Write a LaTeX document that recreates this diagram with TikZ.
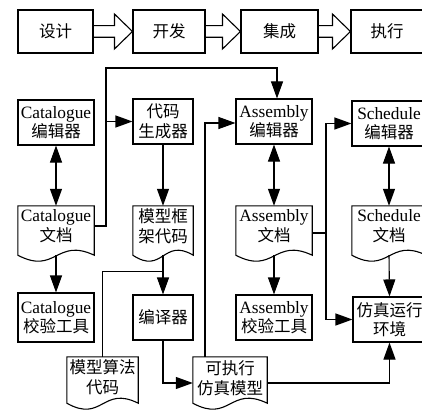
\documentclass[tikz,border=0pt]{standalone}
\usepackage{fontspec}
\setmainfont{Liberation Serif}[Scale=1.05]
\newfontfamily\cjk{Noto Sans CJK SC}
\usetikzlibrary{arrows.meta,calc}

\newcommand\blockarr[2]{%
  \draw[ln] let \p1=(#1.east), \p2=(#2.west) in
    (\x1,\y1+5.8pt) -- (\x2-18pt,\y1+5.8pt) -- (\x2-18pt,\y1+17.5pt) -- (\x2,\y1)
    -- (\x2-18pt,\y1-17.5pt) -- (\x2-18pt,\y1-5.8pt) -- (\x1,\y1-5.8pt);}
\newcommand\docshape[2]{%
  \draw[ln] (#1.north west) -- (#1.north east) -- ($(#1.south east)+(0,#2)$)
    .. controls ($(#1.south)+(0,#2-18)$) and ($(#1.south)+(0,#2+20)$)
    .. ($(#1.south west)+(0,#2)$) -- cycle;}

\begin{document}
\begin{tikzpicture}[x=1pt,y=-1pt,
  every node/.style={font=\fontsize{16.5}{19.5}\selectfont},
  ln/.style={line width=1.1pt},
  box/.style={draw, line width=1.1pt, inner sep=0pt, align=center},
  docn/.style={inner sep=0pt, align=center},
  con/.style={line width=1.1pt, -{Triangle[length=17pt,width=12pt]}},
  dcon/.style={line width=1.1pt, {Triangle[length=17pt,width=12pt]}-{Triangle[length=17pt,width=12pt]}},
]
\useasboundingbox (0,0) rectangle (422,409);

% top row
\node[box, minimum width=75pt, minimum height=43pt] (design) at (55.5,31.5) {\cjk 设计};
\node[box, minimum width=72pt, minimum height=43pt] (dev) at (169,31.5) {\cjk 开发};
\node[box, minimum width=77pt, minimum height=43pt] (integ) at (279.5,31.5) {\cjk 集成};
\node[box, minimum width=72pt, minimum height=43pt] (exe) at (387,31.5) {\cjk 执行};
\blockarr{design}{dev}
\blockarr{dev}{integ}
\blockarr{integ}{exe}

% editors
\node[box, minimum width=76pt, minimum height=45pt] (cated) at (56,122.5) {Catalogue\\{\cjk 编辑器}};
\node[box, minimum width=60pt, minimum height=45pt] (codegen) at (163,121.5) {{\cjk 代码}\\{\cjk 生成器}};
\node[box, minimum width=76pt, minimum height=45pt] (asmed) at (274,121.5) {Assembly\\{\cjk 编辑器}};
\node[box, minimum width=74pt, minimum height=45pt] (sched) at (389,123.5) {Schedule\\{\cjk 编辑器}};

% documents row 3
\node[docn, minimum width=76pt, minimum height=40pt] (catdoc) at (56,226) {Catalogue\\{\cjk 文档}};
\node[docn, minimum width=60pt, minimum height=40pt] (modelfw) at (163,226) {{\cjk 模型框}\\{\cjk 架代码}};
\node[docn, minimum width=76pt, minimum height=40pt] (asmdoc) at (274,226) {Assembly\\{\cjk 文档}};
\node[docn, minimum width=74pt, minimum height=40pt] (scheddoc) at (389,226) {Schedule\\{\cjk 文档}};
\docshape{catdoc}{9}
\docshape{modelfw}{9}
\docshape{asmdoc}{9}
\docshape{scheddoc}{9}

% row 4
\node[box, minimum width=76pt, minimum height=49pt] (catcheck) at (56,317.5) {Catalogue\\{\cjk 校验工具}};
\node[box, minimum width=60pt, minimum height=45pt] (compiler) at (163,317.5) {\cjk 编译器};
\node[box, minimum width=76pt, minimum height=45pt] (asmcheck) at (274,317.5) {Assembly\\{\cjk 校验工具}};
\node[box, minimum width=73pt, minimum height=45pt] (simenv) at (389.5,319.5) {{\cjk 仿真运行}\\{\cjk 环境}};

% row 5 documents
\node[docn, minimum width=71pt, minimum height=40pt] (algo) at (102.5,377) {{\cjk 模型算法}\\{\cjk 代码}};
\node[docn, minimum width=74pt, minimum height=42pt] (exec) at (230,378) {{\cjk 可执行}\\{\cjk 仿真模型}};
\docshape{algo}{6}
\docshape{exec}{4}

% connectors
\coordinate (catbus) at (106,68);
\coordinate (asmj) at (326,233);

\draw[dcon] (cated.south) -- (catdoc.north);
\draw[con] ($(catdoc.south)+(0,9)$) -- (catcheck.north);
\draw[con] (catdoc.east) -| (catbus) -| ([xshift=3pt]asmed.north);
\draw[con] (catbus |- codegen.west) -- (codegen.west);
\draw[con] (codegen.south) -- (modelfw.north);
\draw[con] ($(modelfw.south)+(0,9)$) -- (compiler.north);
\draw[ln] (algo.north) |- ($(compiler.north)+(0,-23)$);
\draw[con] (compiler.south) |- ([yshift=-5pt]exec.west);
\draw[con] ([xshift=-25pt]exec.north) |- ([yshift=-1.5pt]asmed.west);
\draw[con] ([yshift=-5pt]exec.east) -| (simenv.south);
\draw[dcon] (asmed.south) -- (asmdoc.north);
\draw[con] ($(asmdoc.south)+(0,9)$) -- (asmcheck.north);
\draw[ln] (asmdoc.east |- asmj) -- (asmj);
\draw[con] (asmj) |- (sched.west);
\draw[con] (asmj) |- (simenv.west);
\draw[dcon] (sched.south) -- (scheddoc.north);
\draw[con] ($(scheddoc.south)+(0,9)$) -- (simenv.north);
\end{tikzpicture}
\end{document}
